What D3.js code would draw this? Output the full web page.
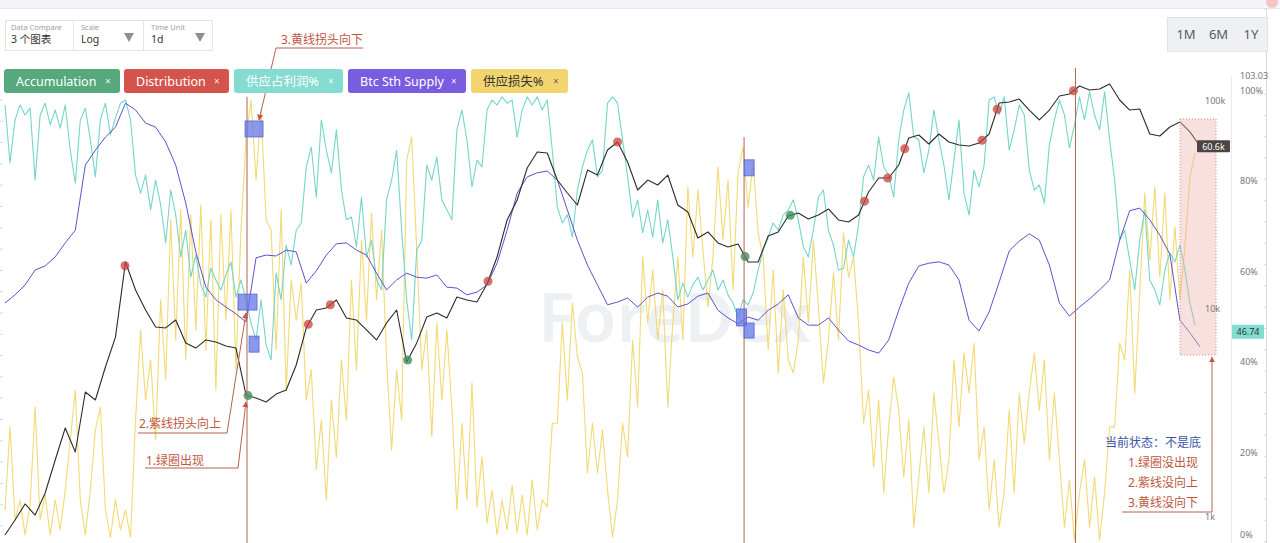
<!DOCTYPE html>
<html>
<head>
<meta charset="utf-8">
<script src="https://cdn.jsdelivr.net/npm/d3@7"></script>
<style>
  body { margin: 0; background: #fff; font-family: "Noto Sans", "Noto Sans CJK SC", sans-serif; }
  svg { display: block; }
</style>
</head>
<body>
<svg width="1280" height="543"></svg>
<script>
// btc price, one value every 28 days from jan 2017
const price = [819,967,1155,1022,1304,1879,2679,2053,3990,3652,
  5260,7330,16830,12340,9890,8190,8110,8850,6870,6490,
  7100,6940,6640,6490,3860,3730,3570,3900,4080,5380,
  8110,9890,10110,11050,9050,8850,7930,7100,8570,9890,
  5560,6870,9150,9570,9050,11420,11050,10810,13190,17780,
  26790,33420,47640,56880,56230,41690,36120,31620,46560,44060,
  58100,63530,50900,37330,41690,39460,44060,31620,29260,21950,
  23460,20770,19860,20540,16830,16830,22440,23460,28010,28940,
  27090,28320,30260,26790,26190,28320,36520,42650,42650,49230,
  66420,68640,62130,69400,63530,61420,60800,62830,69400,97800,
  98900,102200,90500,81100,90500,105700,108100,118100,113000,114200,
  120700,101100,90500,91500,69400,67900,75000,79300,71000,60600];

// btc sth supply (as plotted on the % axis), every 28 days
const sthSupply = [53.1,54.9,57.1,60.4,61.3,63.3,66.4,69.2,83.6,86.9,
  89.8,92.0,97.3,95.8,92.9,92.0,88.7,83.6,75.2,64.4,
  56.6,53.8,52.2,50.7,48.9,63.1,63.7,63.5,64.8,64.4,
  57.5,60.2,63.7,66.2,66.4,64.8,63.7,59.7,56.0,58.2,
  59.7,58.8,58.6,59.3,56.6,56.4,54.9,55.5,57.1,61.9,
  69.2,77.4,81.0,81.9,82.3,80.3,73.7,67.0,61.5,57.1,
  52.7,53.3,54.2,52.2,54.4,55.3,54.6,52.2,52.9,54.6,
  55.3,51.5,49.8,48.5,50.0,49.3,51.5,52.9,54.9,49.8,
  48.2,48.2,49.8,47.1,44.7,43.8,42.7,42.0,44.9,51.5,
  57.5,61.3,61.9,62.2,61.5,58.2,49.3,46.9,51.1,57.7,
  64.6,66.8,68.4,67.0,61.5,53.1,50.2,52.2,54.0,56.0,
  58.2,67.0,73.5,74.1,71.5,68.1,63.9,49.3,46.5,43.4];

// 供应占利润%, every 14 days
const profitPct = [96.9,84.1,93.6,96.9,94.7,96.2,80.3,94.7,97.3,92.5,
  95.8,91.8,96.9,86.9,79.6,93.6,96.2,89.2,81.0,93.6,
  97.3,90.3,94.0,97.3,98.0,93.6,81.4,77.4,81.4,73.7,
  80.3,74.8,66.4,78.1,72.6,63.3,69.2,58.8,63.7,57.1,
  54.4,60.8,58.2,56.0,59.3,62.2,54.4,58.2,53.8,48.7,
  44.9,53.8,43.8,40.5,59.7,53.8,65.9,61.5,69.2,70.8,
  83.2,87.6,76.5,93.6,86.9,81.9,91.4,78.1,71.5,72.1,
  65.5,76.5,63.3,67.0,58.2,56.0,75.9,80.3,86.9,69.2,
  53.8,44.9,64.8,67.0,83.6,80.3,85.4,75.9,73.7,71.5,
  91.4,95.8,89.2,78.8,84.7,83.2,95.8,98.0,96.9,98.7,
  97.3,98.0,89.8,95.8,98.7,96.9,98.7,95.8,98.0,86.9,
  74.3,70.8,72.6,67.7,78.1,83.2,86.9,89.2,81.0,82.5,
  97.3,98.7,97.3,89.2,81.0,72.1,75.9,68.6,73.7,67.7,
  75.9,66.4,71.5,63.3,53.8,57.5,54.4,57.1,58.8,56.0,
  58.2,60.4,56.0,58.2,54.9,53.1,50.0,53.8,52.7,55.3,
  60.4,64.8,67.7,70.8,69.2,72.6,73.7,75.9,71.5,65.5,
  63.3,69.2,76.5,78.1,69.2,65.9,60.4,60.8,67.0,63.3,
  70.4,81.0,83.6,80.3,89.8,83.2,81.4,76.5,89.2,95.8,
  99.6,89.8,89.2,81.9,86.9,95.8,89.2,83.6,75.9,84.7,
  93.6,77.4,72.6,82.5,78.8,83.6,98.0,98.7,94.7,98.7,
  86.9,91.4,96.9,94.7,82.5,78.1,79.2,75.2,88.1,93.6,
  98.0,94.7,87.4,92.5,98.7,93.6,99.8,94.7,91.4,99.8,
  89.2,80.3,67.0,69.2,62.6,56.0,67.0,73.7,58.2,56.0,
  52.7,60.4,64.2,62.2,65.9,60.4,53.1,48.2];

// 供应损失%, every 14 days
const lossPct = [7.3,25.7,5.1,9.5,1.8,8.4,30.1,5.1,10.6,1.8,
  9.5,2.9,11.7,22.8,33.8,9.5,1.8,11.7,25.0,30.1,
  7.3,1.3,9.5,2.9,7.3,1.3,27.2,47.1,31.6,40.5,
  22.8,53.8,36.1,71.5,44.9,73.7,40.5,72.6,47.1,74.8,
  42.7,71.5,33.8,72.6,49.3,73.7,38.3,69.2,89.2,98.0,
  80.3,95.8,71.5,69.2,42.7,73.7,33.8,58.2,49.3,57.5,
  31.6,38.3,16.2,27.2,9.5,31.6,19.0,40.5,27.2,58.2,
  38.3,67.0,49.3,73.0,53.8,69.2,40.5,20.6,38.3,27.2,
  84.7,89.8,64.8,38.3,47.1,23.5,48.7,31.6,47.1,30.1,
  7.3,26.5,9.5,35.4,8.0,19.0,4.4,11.7,1.8,9.5,
  2.9,12.8,2.2,10.6,1.8,13.9,2.9,9.5,8.0,26.5,
  26.5,48.7,31.6,53.1,41.2,37.6,15.5,26.5,15.5,25.0,
  11.7,1.3,9.5,26.5,19.0,44.9,30.1,63.3,48.7,60.4,
  44.9,56.0,30.1,48.7,63.3,44.9,78.8,63.3,78.1,64.8,
  52.2,63.3,83.2,67.0,80.3,56.0,81.9,87.6,74.3,84.1,
  68.6,63.3,42.7,60.4,37.6,56.0,40.5,37.6,44.9,63.3,
  48.7,67.0,52.2,35.4,44.9,59.7,44.9,68.6,58.8,63.3,
  48.7,26.5,33.8,16.8,31.6,11.1,25.7,36.7,29.4,14.6,
  27.2,3.5,14.6,25.7,11.1,33.2,22.1,11.1,18.4,40.5,
  25.7,42.0,33.2,44.2,18.4,25.7,7.3,18.4,3.5,11.1,
  29.4,11.1,33.2,22.1,33.2,42.0,29.4,40.5,18.4,33.2,
  18.4,3.5,13.9,0.7,11.1,18.4,3.5,14.6,0.7,11.1,
  25.7,25.7,44.2,40.5,60.4,33.2,55.3,77.4,62.6,78.8,
  58.8,77.4,53.8,69.9,53.8,65.5,81.0,86.3];

// signal dots, as positions in the price series (28-day steps)
const distribution = [11.95, 30.2, 32.4, 48.1, 61.0, 85.6, 87.9, 89.6, 97.3, 98.8, 106.4];
const accumulation = [24.2, 40.1, 73.7, 78.2];

const priceTicks = [1000, 10000, 100000];
const pctTicks = [0, 20, 40, 60, 80, 100];
const legendItems = ['Accumulation', 'Distribution', '供应占利润%', 'Btc Sth Supply', '供应损失%'];
const legendColors = ['#55a97c', '#d4534c', '#84dbd0', '#7a5ce0', '#f2d56e'];

const svg = d3.select('svg'),
    width = +svg.attr('width'),
    height = +svg.attr('height');

const DAY = 864e5;
const start = new Date(2017, 0, 1);
const dateAt = (idx, step) => new Date(start.getTime() + idx * step * DAY);

const x = d3.scaleTime()
    .domain([start, dateAt(119, 28)])
    .range([5, 1200]);
const yPct = d3.scaleLinear()
    .domain([0, 100])
    .range([543, 91]);
const yPrice = d3.scaleLog()
    .domain([1000, 100000])
    .range([517, 101]);

function priceAt(idx) {
  const i0 = Math.floor(idx), t = idx - i0;
  const a = price[i0], b = price[Math.min(i0 + 1, price.length - 1)];
  return Math.exp(Math.log(a) * (1 - t) + Math.log(b) * t);
}

// header strip
svg.append('rect').attr('x', 0).attr('y', 0).attr('width', width).attr('height', 8).attr('fill', '#f3f4f7');
svg.append('line').attr('x1', 0).attr('x2', width).attr('y1', 8.5).attr('y2', 8.5).attr('stroke', '#e6e8ec');
svg.append('circle').attr('cx', 1272).attr('cy', 2).attr('r', 6).attr('fill', '#f3c5c5');

// left and right tick rails
const rail = svg.append('g').attr('stroke', '#d8dbe0');
rail.append('line').attr('x1', 1266.5).attr('x2', 1266.5).attr('y1', 9).attr('y2', height);
rail.append('line').attr('x1', 1231.5).attr('x2', 1231.5).attr('y1', 76).attr('y2', height).attr('stroke', '#e8eaee');
rail.selectAll('.rt').data(d3.range(9, height, 21.3)).enter().append('line')
    .attr('x1', 1264).attr('x2', 1267).attr('y1', d => d).attr('y2', d => d);
rail.selectAll('.lt').data(d3.range(100, height, 21.3)).enter().append('line')
    .attr('x1', 0).attr('x2', 3).attr('y1', d => d).attr('y2', d => d);

// watermark
svg.append('text')
    .attr('x', 538).attr('y', 342)
    .attr('font-size', 68).attr('font-weight', 600)
    .attr('fill', '#eef1f4')
    .text('ForeDex');

// series
const plot = svg.append('g').attr('fill', 'none').attr('stroke-linejoin', 'round');

plot.append('path')
    .datum(lossPct)
    .attr('stroke', '#f1d564').attr('stroke-width', 1.1).attr('stroke-opacity', 0.9)
    .attr('d', d3.line().x((d, i) => x(dateAt(i, 14))).y(d => yPct(d)));

plot.append('path')
    .datum(profitPct)
    .attr('stroke', '#74d6c9').attr('stroke-width', 1.1)
    .attr('d', d3.line().x((d, i) => x(dateAt(i, 14))).y(d => yPct(d)));

plot.append('path')
    .datum(sthSupply)
    .attr('stroke', '#5f4fcf').attr('stroke-width', 1)
    .attr('d', d3.line().x((d, i) => x(dateAt(i, 28))).y(d => yPct(d)));

plot.append('path')
    .datum(price)
    .attr('stroke', '#2b2b2b').attr('stroke-width', 1.1)
    .attr('d', d3.line().x((d, i) => x(dateAt(i, 28))).y(d => yPrice(d)));

svg.append('g').selectAll('circle')
    .data(distribution)
    .enter().append('circle')
      .attr('cx', d => x(dateAt(d, 28)))
      .attr('cy', d => yPrice(priceAt(d)))
      .attr('r', 4.5)
      .attr('fill', '#c9443c').attr('fill-opacity', 0.75);

svg.append('g').selectAll('circle')
    .data(accumulation)
    .enter().append('circle')
      .attr('cx', d => x(dateAt(d, 28)))
      .attr('cy', d => yPrice(priceAt(d)))
      .attr('r', 4.5)
      .attr('fill', '#3d8f5e').attr('fill-opacity', 0.8);

// annotation markers: vertical guides and blue squares
const brown = '#b5634c';
const guides = [{i: 24.1, top: 98.7}, {i: 73.6, top: 89.8}, {i: 106.6, top: 105.1}];
svg.append('g').selectAll('line')
    .data(guides)
    .enter().append('line')
      .attr('x1', d => x(dateAt(d.i, 28))).attr('x2', d => x(dateAt(d.i, 28)))
      .attr('y1', d => yPct(d.top)).attr('y2', height)
      .attr('stroke', brown).attr('stroke-width', 1);

const squares = [
  {i: 24.8, v: 91.6, w: 18, h: 16}, {i: 24.15, v: 53.3, w: 19, h: 16}, {i: 24.8, v: 44.0, w: 10, h: 16},
  {i: 74.1, v: 83.0, w: 10, h: 16}, {i: 73.35, v: 49.9, w: 10, h: 17}, {i: 74.1, v: 47.0, w: 10, h: 15}
];
svg.append('g').selectAll('rect')
    .data(squares)
    .enter().append('rect')
      .attr('x', d => x(dateAt(d.i, 28)) - d.w / 2)
      .attr('y', d => yPct(d.v) - d.h / 2)
      .attr('width', d => d.w).attr('height', d => d.h)
      .attr('fill', '#6477e6').attr('fill-opacity', 0.75)
      .attr('stroke', '#5566d8').attr('stroke-width', 0.8);

// red highlight box at the end
svg.append('rect')
    .attr('x', 1180).attr('y', 119).attr('width', 36).attr('height', 236)
    .attr('fill', '#eab1ad').attr('fill-opacity', 0.4)
    .attr('stroke', '#d98c88').attr('stroke-dasharray', '1,2');

// arrows and notes
const defs = svg.append('defs');
defs.append('marker').attr('id', 'arr').attr('viewBox', '0 0 10 10')
    .attr('refX', 9).attr('refY', 5).attr('markerWidth', 6).attr('markerHeight', 6).attr('orient', 'auto')
  .append('path').attr('d', 'M0,0L10,5L0,10z').attr('fill', '#c5563f');

const notes = svg.append('g').attr('font-size', 12);
const arrowLine = (pts) => notes.append('path')
    .attr('d', d3.line()(pts)).attr('fill', 'none')
    .attr('stroke', brown).attr('stroke-width', 1)
    .attr('marker-end', 'url(#arr)');

notes.append('text').attr('x', 281).attr('y', 44).attr('fill', '#c0573f').text('3.黄线拐头向下');
arrowLine([[363, 48], [276, 48], [259, 120]]);
notes.append('text').attr('x', 139).attr('y', 428).attr('fill', '#c0573f').text('2.紫线拐头向上');
arrowLine([[138, 433], [227, 433], [246, 313]]);
notes.append('text').attr('x', 146).attr('y', 465).attr('fill', '#c0573f').text('1.绿圈出现');
arrowLine([[145, 468], [238, 468], [246, 402]]);

notes.append('text').attr('x', 1105).attr('y', 447).attr('fill', '#3a55a8').text('当前状态：不是底');
notes.append('text').attr('x', 1128).attr('y', 467).attr('fill', '#c0573f').text('1.绿圈没出现');
notes.append('text').attr('x', 1128).attr('y', 487).attr('fill', '#c0573f').text('2.紫线没向上');
notes.append('text').attr('x', 1128).attr('y', 507).attr('fill', '#c0573f').text('3.黄线没向下');
arrowLine([[1122, 512], [1212, 512], [1212, 357]]);

// axes labels
const axisText = svg.append('g').attr('font-size', 9).attr('fill', '#777');
axisText.selectAll('.pl').data(priceTicks).enter().append('text')
    .attr('x', 1205).attr('y', d => yPrice(d) + 3)
    .text(d => d3.format('~s')(d));
axisText.selectAll('.pp').data(pctTicks).enter().append('text')
    .attr('x', 1240).attr('y', d => Math.min(yPct(d) + 3, 538))
    .text(d => d + '%');
axisText.append('text').attr('x', 1240).attr('y', 79).text('103.03');

// last value tags
const lastPrice = price[price.length - 1];
svg.append('rect').attr('x', 1197).attr('y', yPrice(lastPrice) - 6).attr('width', 33).attr('height', 12)
    .attr('rx', 1).attr('fill', '#4d4444');
svg.append('text').attr('x', 1213.5).attr('y', yPrice(lastPrice) + 3.5)
    .attr('text-anchor', 'middle').attr('font-size', 9).attr('fill', '#fff')
    .text(d3.format('.1f')(lastPrice / 1000) + 'k');
const lastProfit = 46.74;
svg.append('rect').attr('x', 1232).attr('y', yPct(lastProfit) - 7).attr('width', 32).attr('height', 14)
    .attr('fill', '#84dbd0');
svg.append('text').attr('x', 1248).attr('y', yPct(lastProfit) + 3.5)
    .attr('text-anchor', 'middle').attr('font-size', 9).attr('fill', '#1f3b38')
    .text(lastProfit);

// controls
const ctl = svg.append('g');
ctl.append('rect').attr('x', 5.5).attr('y', 20.5).attr('width', 207).attr('height', 30)
    .attr('fill', '#fff').attr('stroke', '#e2e4e8');
[73.5, 143.5].forEach(cx => ctl.append('line').attr('x1', cx).attr('x2', cx).attr('y1', 20).attr('y2', 51).attr('stroke', '#e2e4e8'));
const ctlCells = [['Data Compare', '3 个图表', 11], ['Scale', 'Log', 81], ['Time Unit', '1d', 151]];
ctlCells.forEach(([lab, val, cx]) => {
  ctl.append('text').attr('x', cx).attr('y', 30).attr('font-size', 7.5).attr('fill', '#9a9ea6').text(lab);
  ctl.append('text').attr('x', cx).attr('y', 43).attr('font-size', 10.5).attr('fill', '#333').text(val);
});
[129, 200].forEach(cx => ctl.append('path')
    .attr('d', `M${cx - 5},33L${cx + 5},33L${cx},42z`).attr('fill', '#8a8f98'));

const btns = svg.append('g');
btns.append('rect').attr('x', 1167.5).attr('y', 17.5).attr('width', 100).attr('height', 34)
    .attr('fill', '#eef0f4').attr('stroke', '#e0e3e8');
['1M', '6M', '1Y'].forEach((t, i) => btns.append('text')
    .attr('x', 1186 + i * 32.5).attr('y', 39).attr('text-anchor', 'middle')
    .attr('font-size', 13).attr('fill', '#555b66').text(t));

// legend chips
const chipX = [4, 124, 234, 348, 471];
const chipW = [116, 105, 109, 118, 97];
const chips = svg.append('g').selectAll('g')
    .data(legendItems)
    .enter().append('g')
      .attr('transform', (d, i) => `translate(${chipX[i]},69)`);
chips.append('rect')
    .attr('width', (d, i) => chipW[i]).attr('height', 24).attr('rx', 3)
    .attr('fill', (d, i) => legendColors[i]);
chips.append('text')
    .attr('x', 12).attr('y', 16.5).attr('font-size', 12.5)
    .attr('fill', (d, i) => i === 4 ? '#333' : '#fff')
    .text(d => d);
chips.append('text')
    .attr('x', (d, i) => chipW[i] - 15).attr('y', 15.5).attr('font-size', 10)
    .attr('fill', (d, i) => i === 4 ? '#555' : '#fff').attr('fill-opacity', 0.9)
    .text('×');
</script>
</body>
</html>
